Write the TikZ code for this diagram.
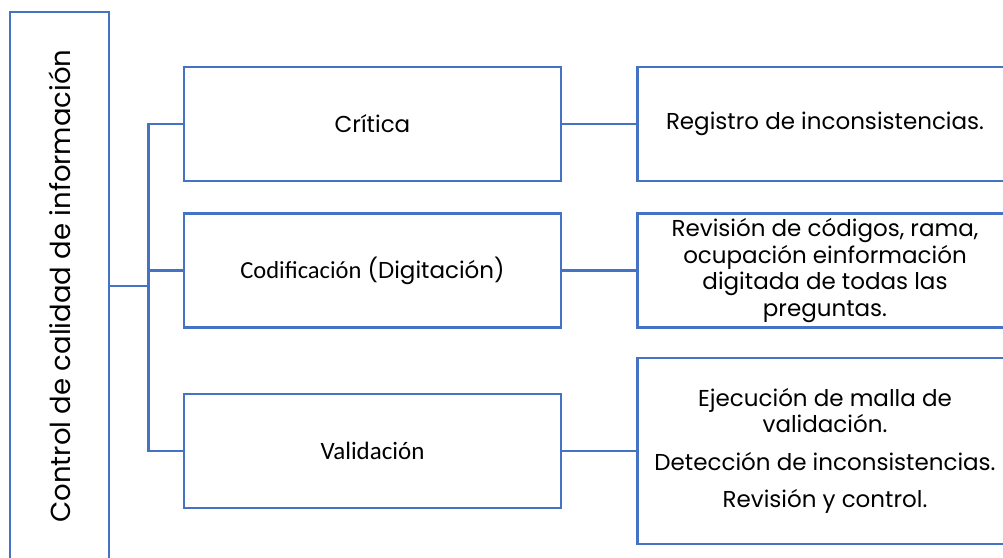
\documentclass[tikz,border=0pt]{standalone}
\usepackage{fontspec}
\setmainfont{Poppins}
\newfontfamily\calibri{Carlito}
\usetikzlibrary{positioning}
\definecolor{lineblue}{HTML}{4472C4}

\begin{document}
\begin{tikzpicture}[
      x=1pt, y=-1pt, % <-- ONE UNIT PER PIXEL, Y DOWNWARDS
      node distance=30pt and 74pt,
      box/.style={draw=lineblue, line width=2.5pt, minimum width=377pt, minimum height=114pt,
        inner sep=0pt, align=center, font=\fontsize{23}{26.5}\selectfont},
      wide/.style={box, minimum width=375pt},
      link/.style={draw=lineblue, line width=2.5pt}
    ]
    \useasboundingbox (0,0) rectangle (1003,557);
    \clip (0,0) rectangle (1003,557);

    % Title box, runs past the bottom edge
    \node[box, minimum width=99pt, minimum height=548pt, font=\fontsize{27.5}{30}\selectfont] (ctrl) at (59.5,286)
      {\rotatebox{90}{Control de calidad de información}};

    % Stages
    \node[box] (crit) at (372.5,124) {Crítica};
    \node[box, below=of crit] (codif) {{\calibri\fontsize{24.5}{26}\selectfont Codificación} (Digitación)};
    \node[box, below=64pt of codif] (valid) {\calibri\fontsize{25}{26}\selectfont Validación};

    % Details, run past the right edge
    \node[wide, right=of crit] (reg) {Registro de inconsistencias.};
    \node[wide, right=of codif] (rev) {Revisión de códigos, rama,\\ocupación einformación\\digitada de todas las\\preguntas.};
    \node[wide, minimum height=186pt, right=of valid] (ejec) {Ejecución de malla de\\validación.\\[11pt]Detección de inconsistencias.\\[11pt]Revisión y control.};

    % Connectors
    \coordinate (fork) at ([xshift=38pt]ctrl.east);
    \draw[link] (ctrl.east) -- (fork);
    \foreach \stage in {crit,codif,valid}
      \draw[link] (fork) |- (\stage.west);
    \draw[link] (crit) -- (reg);
    \draw[link] (codif) -- (rev);
    \draw[link] (valid) -- (ejec);

  \end{tikzpicture}
\end{document}
